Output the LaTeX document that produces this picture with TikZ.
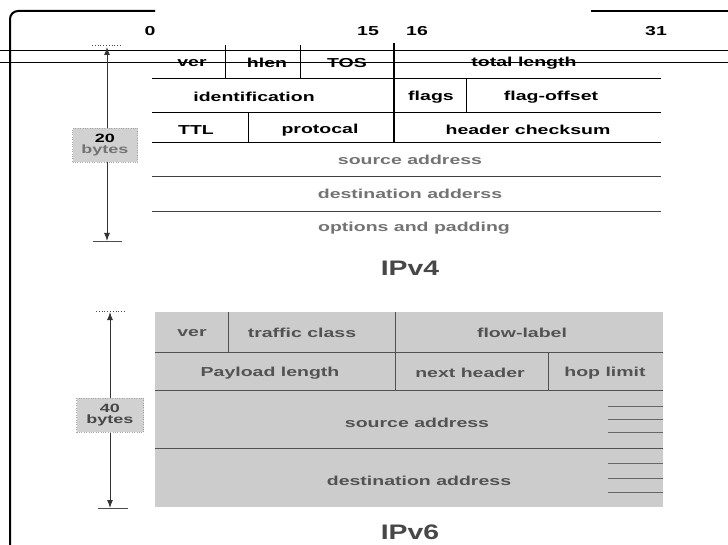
\documentclass[tikz,border=0pt]{standalone}
\usepackage{fontspec}
\setmainfont{Liberation Sans}
\newfontfamily\fld[FakeStretch=1.5]{Liberation Sans Bold}
\newfontfamily\ttl[FakeStretch=1.35]{Liberation Sans Bold}
\usetikzlibrary{arrows.meta}
\begin{document}
\begin{tikzpicture}[x=1pt,y=-1pt,
  ftext/.style={font=\fld\fontsize{13}{13.5}\selectfont, text=black, inner sep=0pt, anchor=center},
  gtext/.style={ftext, text=black!55},
  sixtext/.style={ftext, text=black!68},
  bigtitle/.style={font=\ttl\fontsize{21}{21}\selectfont, text=black!72, inner sep=0pt},
  rule/.style={line width=1pt, draw=black},
  grule/.style={line width=1pt, draw=black!68},
  thickrule/.style={line width=1.6pt, draw=black},
  framerule/.style={line width=2pt, draw=black},
  dimarrow/.style={line width=1pt, draw=black!80, {Latex[length=8pt,width=6pt]}-{Latex[length=8pt,width=6pt]}},
  tick/.style={line width=0.8pt, draw=black!70},
  bytesbox/.style={fill=black!18, draw=black!35, dotted, minimum width=65pt, minimum height=34pt, inner sep=0pt, align=center, font=\fld\fontsize{12}{12.5}\selectfont},
  shortline/.style={line width=0.9pt, draw=black!60}
]
\useasboundingbox (0,0) rectangle (728,545);

% frame
\draw[framerule, rounded corners=8pt] (10,545) -- (10,11) -- (155,11);
\draw[framerule] (591,11) -- (728,11);
\draw[line width=0.9pt] (0,50) -- (728,50);
\draw[line width=0.9pt] (0,62) -- (728,62);

% bit numbers
\node[ftext] (b0) at (150,31) {0};
\node[ftext] (b15) at (368,31) {15};
\node[ftext] (b16) at (417,31) {16};
\node[ftext] (b31) at (656,31) {31};

% ---------- IPv4 ----------
\draw[rule] (152,79) -- (661,79);
\draw[rule] (152,113) -- (661,113);
\draw[rule] (152,143) -- (661,143);
\draw[line width=1pt, draw=black!75] (152,177) -- (661,177);
\draw[line width=1pt, draw=black!75] (152,212) -- (661,212);
\draw[rule] (225,45) -- (225,79);
\draw[rule] (300,45) -- (300,79);
\draw[thickrule] (394,43) -- (394,143);
\draw[rule] (466,79) -- (466,113);
\draw[rule] (248,113) -- (248,143);

\node[ftext] (ver4) at (192,63) {ver};
\node[ftext] (hlen) at (267,63) {hlen};
\node[ftext] (tos) at (347,63) {TOS};
\node[ftext] (tlen) at (524,63) {total length};
\node[ftext] (ident) at (254,97) {identification};
\node[ftext] (flags) at (431,97) {flags};
\node[ftext] (foff) at (551,97) {flag-offset};
\node[ftext] (ttl) at (196,130) {TTL};
\node[ftext] (proto) at (320,130) {protocal};
\node[ftext] (hcs) at (528,130) {header checksum};
\node[gtext] (src4) at (410,160) {source address};
\node[gtext] (dst4) at (410,194) {destination adderss};
\node[gtext] (opt4) at (414,228) {options and padding};
\node[bigtitle] (ipv4) at (410,268) {IPv4};

% IPv4 dimension
\coordinate (a4t) at (107,47);
\coordinate (a4b) at (107,241);
\draw[dimarrow] (a4t) -- (a4b);
\draw[tick, dotted] (92,45) -- (122,45);
\draw[tick] (93,241) -- (122,241);
\node[bytesbox] (by20) at (105,145) {20\\[-1pt]\color{black!55}bytes};

% ---------- IPv6 ----------
\fill[black!20] (155,312) rectangle (663,507);
\draw[grule] (155,352) -- (663,352);
\draw[grule] (155,390) -- (663,390);
\draw[grule] (155,448) -- (663,448);
\draw[grule] (228,312) -- (228,352);
\draw[grule] (395,312) -- (395,390);
\draw[grule] (548,352) -- (548,390);
\foreach \yy in {406,419,432,463,478,492}
  \draw[shortline] (608,\yy) -- (663,\yy);

\node[sixtext] (ver6) at (192,333) {ver};
\node[sixtext] (tclass) at (302,333) {traffic class};
\node[sixtext] (flow) at (522,333) {flow-label};
\node[sixtext] (plen) at (270,373) {Payload length};
\node[sixtext] (nhdr) at (470,373) {next header};
\node[sixtext] (hop) at (605,373) {hop limit};
\node[sixtext] (src6) at (417,423) {source address};
\node[sixtext] (dst6) at (419,481) {destination address};
\node[bigtitle] (ipv6) at (410,532) {IPv6};

% IPv6 dimension
\coordinate (a6t) at (110,312);
\coordinate (a6b) at (110,508);
\draw[dimarrow] (a6t) -- (a6b);
\draw[tick, dotted] (96,311) -- (126,311);
\draw[tick] (98,508) -- (128,508);
\node[bytesbox, minimum width=67pt, text=black!72] (by40) at (110,415) {40\\[-1pt]bytes};
\end{tikzpicture}
\end{document}
